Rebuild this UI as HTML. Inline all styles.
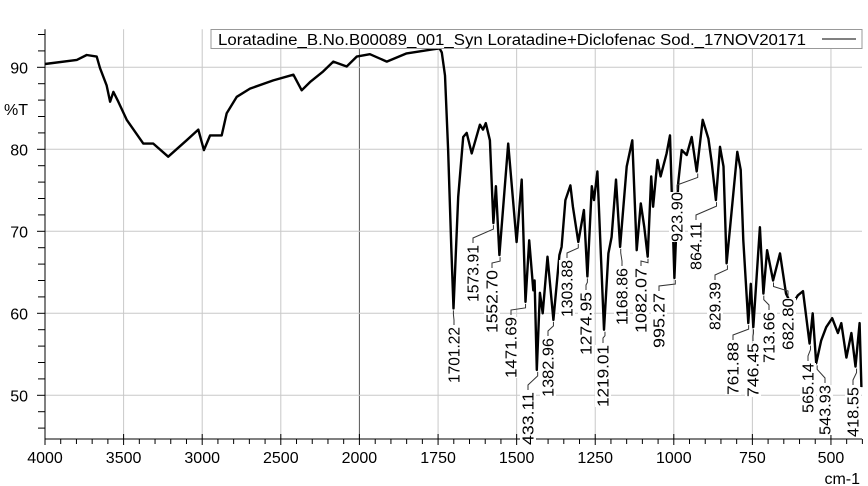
<!DOCTYPE html>
<html><head><meta charset="utf-8"><style>
html,body{margin:0;padding:0;background:#fff;}
svg{display:block;font-family:"Liberation Sans",Arial,sans-serif;}
</style></head><body>
<svg id="chart" width="868" height="486" viewBox="0 0 868 486" xmlns="http://www.w3.org/2000/svg">
<g id="grid"></g>
<g id="axes"></g>
<g id="series"></g>
<g id="labels"></g>
<g id="legend">
<rect x="211" y="29.5" width="651" height="19" fill="#fff" stroke="#999" stroke-width="1"/>
<text x="218" y="45" font-size="15.5" fill="#000" textLength="588" lengthAdjust="spacingAndGlyphs">Loratadine_B.No.B00089_001_Syn  Loratadine+Diclofenac Sod._17NOV20171</text>
<line x1="822" y1="39" x2="856" y2="39" stroke="#000" stroke-width="1"/>
</g>
</svg>
<script>
const wavenumbers=[4000,3798,3735,3671,3650,3608,3586,3565,3534,3480,3375,3311,3216,3099,3025,2989,2950,2876,2844,2780,2696,2548,2420,2367,2314,2230,2166,2081,2017,1967,1913,1850,1766,1745,1738,1728,1718,1708,1701,1686,1670,1659,1643,1617,1607,1598,1585,1574,1566,1555,1527,1500,1484,1472,1460,1447,1443,1436,1426,1417,1402,1383,1364,1357,1345,1329,1321,1304,1286,1275,1261,1254,1243,1222,1208,1198,1184,1171,1150,1132,1118,1105,1094,1083,1072,1066,1052,1042,1023,1012,998,986,975,959,943,927,908,890,879,866,853,842,832,821,798,787,779,763,755,747,726,715,703,684,662,643,625,605,589,568,558,547,531,515,496,478,467,451,435,422,409,403];
const transmittance=[90.4,90.9,91.5,91.3,89.9,87.8,85.8,87,85.8,83.6,80.7,80.7,79.1,81.1,82.4,79.9,81.7,81.7,84.4,86.4,87.4,88.4,89.1,87.2,88.2,89.5,90.7,90.1,91.3,91.6,90.7,91.7,92.2,92.3,91.8,89,80,68,60.6,74.2,81.5,82,79.5,83,82.4,83.2,81.1,71,75.5,67.1,80.7,68.7,76.3,61.4,68.9,62.8,64,53.1,62.5,60,66.9,59.2,67.1,68.1,73.8,75.6,73,68.7,72.6,64.5,75.5,73.8,77.3,58,67.3,69.3,76.3,68.1,77.9,81.1,67.7,73.4,70.5,66.9,76.7,73,78.7,76.7,79.5,81.7,64.3,75.9,79.9,79.3,81.5,77.3,83.6,81.3,78.3,73.8,80.3,77.9,66.1,70.5,79.7,77.5,68.9,58.8,63.6,58.3,70.5,62.4,67.7,64,67.3,62.4,61,62.2,62.7,56.3,60,53.9,56.7,58.3,59.4,57.6,58.8,54.6,57.6,53.5,58.8,51];
const xTickValues=[4000,3500,3000,2500,2000,1750,1500,1250,1000,750,500];
const yTickValues=[50,60,70,80,90];
const peakValues=[1701.22,1573.91,1552.70,1471.69,1433.11,1382.96,1303.88,1274.95,1219.01,1168.86,1082.07,995.27,923.90,864.11,829.39,761.88,746.45,713.66,682.80,565.14,543.93,418.55];
const peakTexts=["1701.22","1573.91","1552.70","1471.69","433.11","1382.96","1303.88","1274.95","1219.01","1168.86","1082.07","995.27","923.90","864.11","829.39","761.88","746.45","713.66","682.80","565.14","543.93","418.55"];
const peakT=[60.6,71,67.1,61.4,53.1,59.2,68.7,64.5,58,68.1,66.9,64.3,77.3,73.8,66.1,58.8,58.3,62.4,64,56.3,53.9,53.5];
const labelLayout=[[454,327,383],[473,245,302],[492,270,333],[511,317,378],[528,392,445],[548,338,397],[567,260,317],[586,292,355],[603,345,407],[622,268,325],[641,268,333],[659,293,348],[677,192,242],[696,222,270],[715,282,330],[733,342,395],[753,343,397],[769,312,363],[788,298,350],[808,363,413],[825,385,435],[853,387,437]];

const L=45,R=862,T=29.3,B=439;
function xs(w){return w>=2000? L+(4000-w)*0.1572 : 359.5+(2000-w)*0.3143;}
function ys(t){return 67.3-(t-90)*8.2;}
const NS="http://www.w3.org/2000/svg";
function mk(tag,attrs,parent){const e=document.createElementNS(NS,tag);for(const k in attrs)e.setAttribute(k,attrs[k]);parent.appendChild(e);return e;}
const grid=document.getElementById('grid'),axes=document.getElementById('axes'),series=document.getElementById('series'),labels=document.getElementById('labels');

xTickValues.forEach(v=>{const x=xs(v);
 const g=mk('line',{x1:x,y1:T,x2:x,y2:B,stroke:v===2000?'#555':'#c8c8c8','stroke-width':1},grid);
 
 
 const t=mk('text',{x:x,y:463,'font-size':16,'text-anchor':'middle',fill:'#000'},axes);t.textContent=v;
 
 
 const tk=mk('line',{x1:x,y1:B-5,x2:x,y2:B+6,stroke:'#000','stroke-width':1},axes);
 
 
});
for(let w=3900;w>2000;w-=100){if(w%500===0)continue;const x=xs(w);const tk=mk('line',{x1:x,y1:B,x2:x,y2:B+5,stroke:'#000'},axes);
 
 }
for(let w=1950;w>=400;w-=50){if(w%250===0)continue;const x=xs(w);const tk=mk('line',{x1:x,y1:B,x2:x,y2:B+5,stroke:'#000'},axes);
 
 }
yTickValues.forEach(v=>{const y=ys(v);
 const g=mk('line',{x1:L,y1:y,x2:R,y2:y,stroke:'#c8c8c8','stroke-width':1},grid);
 
 
 const t=mk('text',{x:28,y:y+6,'font-size':16,'text-anchor':'end',fill:'#000'},axes);t.textContent=v;
 
 
});
for(let v=46;v<=94;v+=2){const y=ys(v);const tk=mk('line',{x1:L-(v%10===0?8:7),y1:y,x2:L,y2:y,stroke:'#000'},axes);
 
 }
let ax=mk('line',{x1:L,y1:T,x2:L,y2:B,stroke:'#000'},axes);


ax=mk('line',{x1:L,y1:B,x2:R,y2:B,stroke:'#000'},axes);


let t=mk('text',{x:4,y:115,'font-size':16,fill:'#000'},axes);t.textContent='%T';


t=mk('text',{x:860,y:484,'font-size':16,'text-anchor':'end',fill:'#000'},axes);t.textContent='cm-1';



const d=wavenumbers.map((w,i)=>(i?'L':'M')+xs(w).toFixed(1)+','+ys(transmittance[i]).toFixed(1)).join(' ');
const p=mk('path',{d:d,fill:'none',stroke:'#000','stroke-width':2.4,'stroke-linejoin':'round'},series);



peakValues.forEach((w,i)=>{const px=xs(w),py=ys(peakT[i]);const [lx,top,bot]=labelLayout[i];
 const ld=mk('polyline',{points:`${px},${py+2} ${px},${py+6} ${lx},${top-7} ${lx},${top-2}`,fill:'none',stroke:'#333','stroke-width':1},labels);
 
 
 const bg=mk('rect',{x:lx-8,y:top,width:16,height:bot-top,fill:'#fff'},labels);
 
 
 const tx=mk('text',{x:0,y:0,'font-size':15.5,'text-anchor':'start',fill:'#000',transform:`translate(${lx+5.5},${bot}) rotate(-90)`,textLength:bot-top,lengthAdjust:'spacingAndGlyphs'},labels);
 tx.textContent=peakTexts[i];
 
 
});
</script>
</body></html>
